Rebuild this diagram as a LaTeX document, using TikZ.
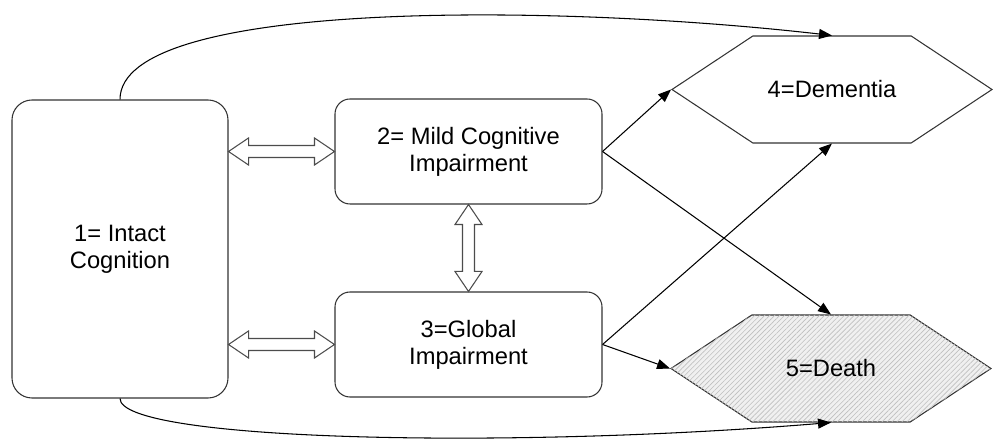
\documentclass[tikz,border=0pt]{standalone}
\usepackage{fontspec}
\setmainfont{Liberation Sans}
\usepackage{tikz}
\usetikzlibrary{arrows.meta}
\usetikzlibrary{calc}
\usetikzlibrary{shapes.symbols}
\usetikzlibrary{patterns.meta}

% outlined two-headed arrow between two points
\newcommand{\hollowarrow}[2]{%
  \draw[line width=0.6pt, draw=black!70, fill=white, line join=miter]
    (#1) -- ($(#1)!0.4cm!(#2)!0.27cm!90:(#2)$)
    -- ($(#1)!0.4cm!(#2)!0.12cm!90:(#2)$)
    -- ($(#2)!0.4cm!(#1)!0.12cm!-90:(#1)$)
    -- ($(#2)!0.4cm!(#1)!0.27cm!-90:(#1)$)
    -- (#2)
    -- ($(#2)!0.4cm!(#1)!0.27cm!90:(#1)$)
    -- ($(#2)!0.4cm!(#1)!0.12cm!90:(#1)$)
    -- ($(#1)!0.4cm!(#2)!0.12cm!-90:(#2)$)
    -- ($(#1)!0.4cm!(#2)!0.27cm!-90:(#2)$)
    -- cycle;}

\begin{document}
\begin{tikzpicture}[
  font=\fontsize{13.5}{15.5}\selectfont,
  box/.style={draw=black!80, line width=0.6pt, rounded corners=0.3cm, align=center},
  hexstate/.style={signal, signal to=west and east, signal pointer angle=67,
    draw=black!80, line width=0.6pt, minimum width=6.4cm, minimum height=2.14cm, inner sep=0pt},
  trans/.style={line width=0.6pt, -{Triangle[length=2.6mm, width=2mm]}}
  ]

  \useasboundingbox (0,0) rectangle (19.86,8.78);

  % States
  \node[box, rounded corners=0.4cm, minimum width=4.32cm, minimum height=5.96cm]
    (intact) at (2.40,3.80) {1= Intact\\Cognition};
  \node[box, minimum width=5.34cm, minimum height=2.10cm]
    (mci) at (9.37,5.75) {2= Mild Cognitive\\Impairment};
  \node[box, minimum width=5.34cm, minimum height=2.10cm]
    (global) at (9.37,1.89) {3=Global\\Impairment};

  \node[hexstate] (dementia) at (16.64,6.99) {4=Dementia};
  \node[hexstate, fill=gray!12,
    postaction={pattern={Lines[angle=45, distance=2pt, line width=0.35pt]}, pattern color=gray!50}]
    (death) at (16.62,1.41) {5=Death};

  % Reversible transitions
  \coordinate (l2) at (intact.east |- mci.west);
  \coordinate (l3) at (intact.east |- global.west);
  \hollowarrow{l2}{mci.west}
  \hollowarrow{l3}{global.west}
  \hollowarrow{mci.south}{global.north}

  % Absorbing transitions
  \draw[trans] (mci.east) -- (dementia.west);
  \draw[trans] (mci.east) -- (death.north);
  \draw[trans] (global.east) -- (dementia.south);
  \draw[trans] (global.east) -- (death.west);

  \draw[trans] (intact.north) .. controls +(0,2.0) and +(-5.6,0.64) .. (dementia.north);
  \draw[trans] (intact.south) .. controls +(0,-0.84) and +(-6.56,-0.54) .. (death.south);

\end{tikzpicture}
\end{document}
